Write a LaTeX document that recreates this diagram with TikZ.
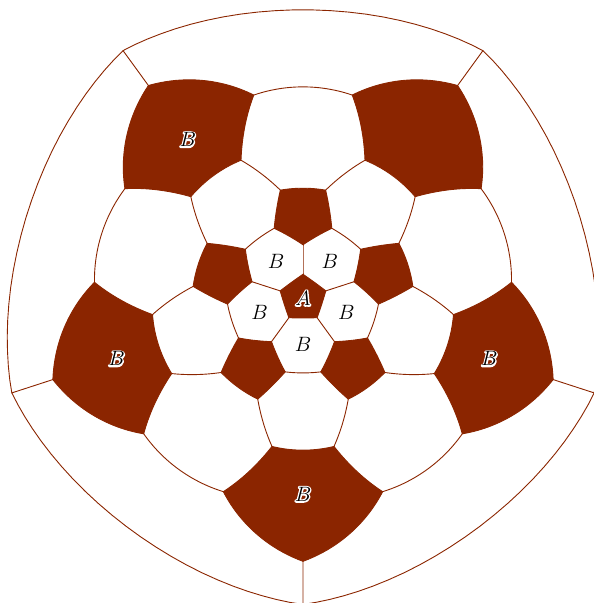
\documentclass[tikz,border=0pt]{standalone}
\usepackage{tikz}
\definecolor{brn}{RGB}{139,37,0}
\def\pS{142.5}
\def\pD{1.099}
\def\zA{20.0758}\def\zB{43.3604}\def\zC{59.0138}\def\zD{80.1167}
\def\zE{99.8833}\def\zF{120.9862}\def\zG{136.6396}\def\zH{159.9242}
\def\zP{22.3861}\def\zQ{11.8177}
\makeatletter
\newcommand\haloon{\pgfsys@invoke{1 1 1 RG 1 Tr 2.8 w 1 j}}
\newcommand\halooff{\pgfsys@invoke{0 Tr}}
\makeatother
\tikzset{
  gc/.style={variable=\t,domain=0:1,samples=24},
  edge/.style={draw=brn,line width=0.9pt,line join=round,line cap=round},
  lab/.style={inner sep=0pt,font=\fontsize{20.74}{25}\selectfont},
  halo/.style={lab,text=white}
}
\newcommand\E[4]{\draw[edge] plot[gc] ({gx(\t,#1,#2,#3,#4)},{gy(\t,#1,#2,#3,#4)});}
\newcommand\Pt[4]{plot[gc] ({gx(\noexpand\t,#1,#2,#3,#4)},{gy(\noexpand\t,#1,#2,#3,#4)})}
\begin{document}
\begin{tikzpicture}[x=1pt,y=1pt,
  declare function={
    nrm(\pu,\pa,\pb,\pc,\pe)=sqrt((1-\pu)^2+\pu^2+2*\pu*(1-\pu)*(sin(\pa)*sin(\pc)*cos((\pb)-(\pe))+cos(\pa)*cos(\pc)));
    gx(\pu,\pa,\pb,\pc,\pe)=\pS*((1-\pu)*sin(\pa)*cos(\pb)+\pu*sin(\pc)*cos(\pe))/((1-\pu)*cos(\pa)+\pu*cos(\pc)+\pD*nrm(\pu,\pa,\pb,\pc,\pe));
    gy(\pu,\pa,\pb,\pc,\pe)=\pS*((1-\pu)*sin(\pa)*sin(\pb)+\pu*sin(\pc)*sin(\pe))/((1-\pu)*cos(\pa)+\pu*cos(\pc)+\pD*nrm(\pu,\pa,\pb,\pc,\pe));
  }]
\useasboundingbox (-303,-304.7) rectangle (291,298.3);
% central pentagon A
\begin{scope}[rotate=90]
\edef\tmp{\noexpand\fill[brn] \Pt{\zA}{0}{\zA}{72} -- \Pt{\zA}{72}{\zA}{144} -- \Pt{\zA}{144}{\zA}{216} -- \Pt{\zA}{216}{\zA}{288} -- \Pt{\zA}{288}{\zA}{360} -- cycle;}\tmp
\end{scope}
\foreach \k in {0,...,4}{
\begin{scope}[rotate=90+72*\k]
% small dark pentagon
\edef\tmp{\noexpand\fill[brn] \Pt{\zB}{0}{\zC}{\zP} -- \Pt{\zC}{\zP}{\zD}{\zQ} -- \Pt{\zD}{\zQ}{\zD}{-\zQ} -- \Pt{\zD}{-\zQ}{\zC}{-\zP} -- \Pt{\zC}{-\zP}{\zB}{0} -- cycle;}\tmp
% big dark pentagon
\edef\tmp{\noexpand\fill[brn] \Pt{\zE}{36-\zQ}{\zE}{36+\zQ} -- \Pt{\zE}{36+\zQ}{\zF}{36+\zP} -- \Pt{\zF}{36+\zP}{\zG}{36} -- \Pt{\zG}{36}{\zF}{36-\zP} -- \Pt{\zF}{36-\zP}{\zE}{36-\zQ} -- cycle;}\tmp
% edges
\E{\zA}{0}{\zA}{72}
\E{\zA}{0}{\zB}{0}
\E{\zB}{0}{\zC}{\zP}
\E{\zB}{0}{\zC}{-\zP}
\E{\zC}{\zP}{\zC}{72-\zP}
\E{\zC}{\zP}{\zD}{\zQ}
\E{\zC}{-\zP}{\zD}{-\zQ}
\E{\zD}{-\zQ}{\zD}{\zQ}
\E{\zD}{\zQ}{\zE}{36-\zQ}
\E{\zD}{-\zQ}{\zE}{-36+\zQ}
\E{\zE}{36-\zQ}{\zE}{36+\zQ}
\E{\zE}{36-\zQ}{\zF}{36-\zP}
\E{\zE}{36+\zQ}{\zF}{36+\zP}
\E{\zF}{36-\zP}{\zF}{-36+\zP}
\E{\zF}{36-\zP}{\zG}{36}
\E{\zF}{36+\zP}{\zG}{36}
\coordinate (v7) at ({gx(0,\zG,36,\zH,36)},{gy(0,\zG,36,\zH,36)});
\coordinate (v8) at ({gx(1,\zG,36,\zH,36)},{gy(1,\zG,36,\zH,36)});
\draw[edge] (v7) -- (v8);
\E{\zH}{36}{\zH}{108}
\end{scope}
\node[lab] (b\k) at (54+72*\k:45.7) {$B$};
\node[halo] (bbh\k) at (54+72*\k:196) {\haloon$B$\halooff};
\node[lab] (bb\k) at (54+72*\k:196) {$B$};
}
\node[halo] (ah) at (0,0) {\haloon$A$\halooff};
\node[lab] (a) at (0,0) {$A$};
\end{tikzpicture}
\end{document}
